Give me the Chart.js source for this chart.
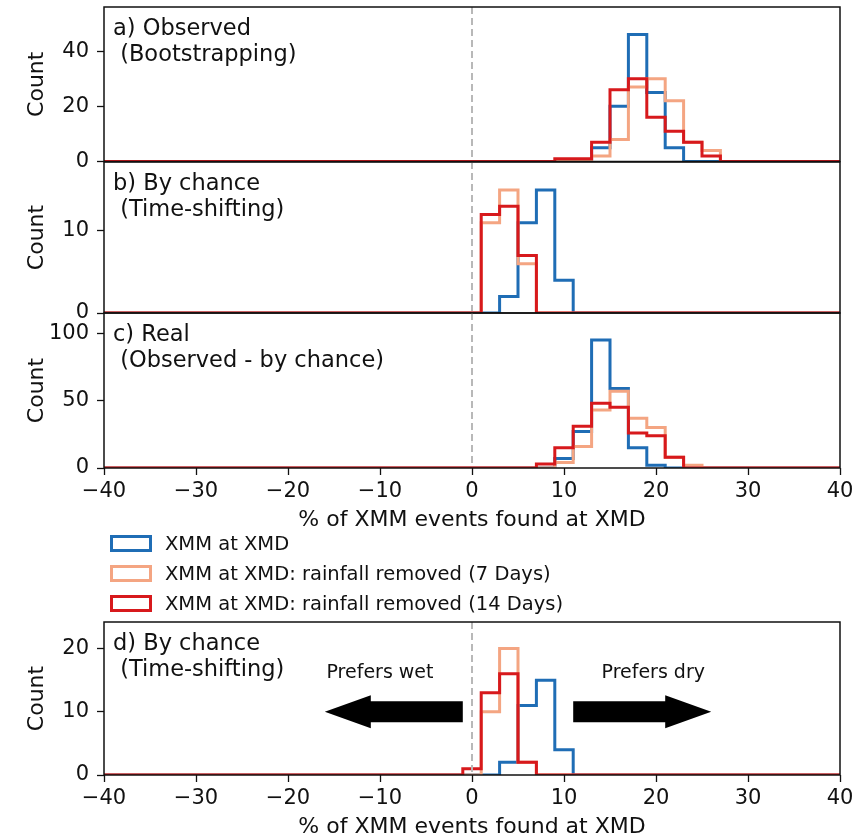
<!DOCTYPE html>
<html>
<head>
<meta charset="utf-8">
<script src="https://cdn.jsdelivr.net/npm/chart.js@4.4.1/dist/chart.umd.min.js"></script>
<style>
  html, body { margin: 0; padding: 0; background: #fff; overflow: hidden; }
  #page { position: relative; width: 862px; height: 840px; font-family: "DejaVu Sans", sans-serif; color: #111; }
  #page canvas { position: absolute; left: 0; }
  .legend-row { position: absolute; left: 110px; height: 17px; display: flex; align-items: center; font-size: 19.5px; white-space: nowrap; }
  .legend-box { box-sizing: border-box; width: 42px; height: 17px; border: 3px solid; background: #fff; margin-right: 13px; }
</style>
</head>
<body>
<div id="page">
  <canvas id="panelA" width="862" height="178" style="top:0px"></canvas>
  <canvas id="panelB" width="862" height="180" style="top:148px"></canvas>
  <canvas id="panelC" width="862" height="238" style="top:300px"></canvas>
  <canvas id="panelD" width="862" height="237" style="top:608px"></canvas>
  <div id="legend"></div>
</div>
<script>
/* global Chart */

// x axis: % of XMM events found at XMD, histogram bins 2 wide on odd edges
const xMin = -40;
const xMax = 40;
const binWidth = 2;
const xTicks = [-40, -30, -20, -10, 0, 10, 20, 30, 40];
const zeroLineX = 0;

const seriesNames = [
  "XMM at XMD",
  "XMM at XMD: rainfall removed (7 Days)",
  "XMM at XMD: rainfall removed (14 Days)",
];
const seriesColors = ["#1f6db5", "#f4a582", "#d7191c"];

// a) Observed (Bootstrapping) - left bin edges and counts
const binsA = [9, 11, 13, 15, 17, 19, 21, 23, 25];
const blueA = [0, 0, 5, 20, 46, 25, 5, 0, 0];
const orangeA = [0, 0, 2, 8, 27, 30, 22, 7, 4];
const redA = [1, 1, 7, 26, 30, 16, 11, 7, 2];
const yTicksA = [0, 20, 40];
const yMaxA = 56;

// b) By chance (Time-shifting)
const binsB = [1, 3, 5, 7, 9];
const blueB = [0, 2, 11, 15, 4];
const orangeB = [11, 15, 6, 0, 0];
const redB = [12, 13, 7, 0, 0];
const yTicksB = [0, 10];
const yMaxB = 18.4;

// c) Real (Observed - by chance)
const binsC = [7, 9, 11, 13, 15, 17, 19, 21, 23];
const blueC = [0, 7, 27, 95, 59, 15, 2, 0, 0];
const orangeC = [0, 4, 16, 43, 57, 37, 30, 8, 2];
const redC = [3, 15, 31, 48, 45, 26, 24, 8, 0];
const yTicksC = [0, 50, 100];
const yMaxC = 115;

// d) By chance (Time-shifting)
const binsD = [-1, 1, 3, 5, 7, 9];
const blueD = [0, 0, 2, 11, 15, 4];
const orangeD = [0, 10, 20, 2, 0, 0];
const redD = [1, 13, 16, 2, 0, 0];
const yTicksD = [0, 10, 20];
const yMaxD = 24.2;

// arrows in panel d, data units
const arrowFrom = [-1, 11];
const arrowTo = [-16, 26];
const arrowY = 10;
const arrowLabels = ["Prefers wet", "Prefers dry"];
const arrowLabelX = [-10, 19.7];
const arrowLabelY = 16.1;

const FONT = "DejaVu Sans";
const INK = "#111";

const minusLabel = (v) => (v < 0 ? `\u2212${Math.abs(v)}` : `${v}`);

function stepPoints(bins, counts) {
  const pts = [{ x: xMin - 1, y: 0 }];
  bins.forEach((b, i) => pts.push({ x: b, y: counts[i] }));
  pts.push({ x: bins[bins.length - 1] + binWidth, y: 0 });
  pts.push({ x: xMax + 1, y: 0 });
  return pts;
}

// dashed grey line at x = 0, dashes as small whole-pixel rects
const zeroLinePlugin = {
  id: "zeroLine",
  afterDatasetsDraw(chart) {
    const { ctx, chartArea: a, scales } = chart;
    const x = Math.round(scales.x.getPixelForValue(zeroLineX));
    const top = Math.round(a.top);
    const bottom = Math.round(a.bottom) - 2;
    ctx.save();
    ctx.globalAlpha = 1;
    ctx.fillStyle = "#b8b8b8";
    for (let y = top; y < bottom; y += 11) {
      ctx.fillRect(x - 1, y, 2, Math.min(7, bottom - y));
    }
    ctx.restore();
  },
};

const framePlugin = {
  id: "frame",
  afterDraw(chart) {
    const { ctx, chartArea: a } = chart;
    ctx.save();
    ctx.strokeStyle = "#111";
    ctx.lineWidth = 1.5;
    ctx.strokeRect(a.left, a.top, a.right - a.left, a.bottom - a.top);
    ctx.restore();
  },
};

const panelTextPlugin = {
  id: "panelText",
  afterDatasetsDraw(chart, args, opts) {
    const { ctx, chartArea: a } = chart;
    ctx.save();
    ctx.fillStyle = INK;
    ctx.font = `22.5px "${FONT}"`;
    ctx.textBaseline = "middle";
    ctx.textAlign = "left";
    opts.lines.forEach((t, i) => ctx.fillText(t, a.left + 9, a.top + 22 + i * 26));
    ctx.restore();
  },
};

const arrowPlugin = {
  id: "arrows",
  afterDatasetsDraw(chart) {
    const { ctx, scales } = chart;
    const sx = scales.x;
    const sy = scales.y;
    ctx.save();
    ctx.fillStyle = "#000";
    arrowFrom.forEach((from, i) => {
      const x0 = sx.getPixelForValue(from);
      const x1 = sx.getPixelForValue(arrowTo[i]);
      const yc = sy.getPixelForValue(arrowY);
      const dir = Math.sign(x1 - x0);
      const hl = 46;
      const sw = 10.5;
      const hw = 16.5;
      ctx.beginPath();
      ctx.moveTo(x0, yc - sw);
      ctx.lineTo(x1 - dir * hl, yc - sw);
      ctx.lineTo(x1 - dir * hl, yc - hw);
      ctx.lineTo(x1, yc);
      ctx.lineTo(x1 - dir * hl, yc + hw);
      ctx.lineTo(x1 - dir * hl, yc + sw);
      ctx.lineTo(x0, yc + sw);
      ctx.closePath();
      ctx.fill();
    });
    ctx.fillStyle = INK;
    ctx.font = `19px "${FONT}"`;
    ctx.textAlign = "center";
    ctx.textBaseline = "middle";
    arrowLabels.forEach((t, i) => {
      ctx.fillText(t, sx.getPixelForValue(arrowLabelX[i]), sy.getPixelForValue(arrowLabelY));
    });
    ctx.restore();
  },
};

function makePanel(id, cfg) {
  const series = [cfg.blue, cfg.orange, cfg.red];
  const datasets = series.map((counts, i) => ({
    label: seriesNames[i],
    data: stepPoints(cfg.bins, counts),
    stepped: true,
    borderColor: seriesColors[i],
    borderWidth: 3,
    pointRadius: 0,
    fill: false,
    clip: 0,
    order: 3 - i,
  }));

  const plugins = [zeroLinePlugin, framePlugin, panelTextPlugin];
  if (cfg.arrows) plugins.push(arrowPlugin);

  // eslint-disable-next-line no-new
  new Chart(document.getElementById(id), {
    type: "line",
    data: { datasets },
    plugins,
    options: {
      responsive: false,
      animation: false,
      events: [],
      layout: { autoPadding: false, padding: cfg.padding },
      plugins: {
        legend: { display: false },
        tooltip: { enabled: false },
        panelText: { lines: cfg.text },
      },
      scales: {
        x: {
          type: "linear",
          min: xMin,
          max: xMax,
          display: cfg.showX,
          afterBuildTicks: (axis) => {
            axis.ticks = xTicks.map((v) => ({ value: v }));
          },
          afterFit: (s) => {
            s.height = cfg.showX ? 70 : 0;
            s.paddingLeft = 0;
            s.paddingRight = 0;
          },
          border: { display: false },
          grid: { drawOnChartArea: false, tickLength: 7, color: "#111", tickWidth: 1.3 },
          ticks: {
            color: INK,
            padding: 4,
            maxRotation: 0,
            font: { family: FONT, size: 21 },
            callback: minusLabel,
          },
          title: {
            display: true,
            text: "% of XMM events found at XMD",
            color: INK,
            font: { family: FONT, size: 22 },
            padding: { top: 0, bottom: 5 },
          },
        },
        y: {
          min: 0,
          max: cfg.yMax,
          afterBuildTicks: (axis) => {
            axis.ticks = cfg.yTicks.map((v) => ({ value: v }));
          },
          afterFit: (s) => {
            s.width = 104;
            s.paddingTop = 0;
            s.paddingBottom = 0;
          },
          border: { display: false },
          grid: { drawOnChartArea: false, tickLength: 7, color: "#111", tickWidth: 1.3 },
          ticks: {
            color: INK,
            padding: 8,
            font: { family: FONT, size: 21 },
          },
          title: {
            display: true,
            text: "Count",
            color: INK,
            font: { family: FONT, size: 22 },
            padding: { top: 24, bottom: 0 },
          },
        },
      },
    },
  });
}

makePanel("panelA", {
  bins: binsA, blue: blueA, orange: orangeA, red: redA,
  yTicks: yTicksA, yMax: yMaxA, showX: false,
  text: ["a) Observed", " (Bootstrapping)"],
  padding: { top: 7, bottom: 16.5, left: 0, right: 22 },
});
makePanel("panelB", {
  bins: binsB, blue: blueB, orange: orangeB, red: redB,
  yTicks: yTicksB, yMax: yMaxB, showX: false,
  text: ["b) By chance", " (Time-shifting)"],
  padding: { top: 14, bottom: 15, left: 0, right: 22 },
});
makePanel("panelC", {
  bins: binsC, blue: blueC, orange: orangeC, red: redC,
  yTicks: yTicksC, yMax: yMaxC, showX: true,
  text: ["c) Real", " (Observed - by chance)"],
  padding: { top: 13, bottom: 0, left: 0, right: 22 },
});
makePanel("panelD", {
  bins: binsD, blue: blueD, orange: orangeD, red: redD,
  yTicks: yTicksD, yMax: yMaxD, showX: true, arrows: true,
  text: ["d) By chance", " (Time-shifting)"],
  padding: { top: 14, bottom: 0, left: 0, right: 22 },
});

// legend between panel c and panel d
const legend = document.getElementById("legend");
const legendTops = [535, 565, 595];
seriesNames.forEach((name, i) => {
  const row = document.createElement("div");
  row.className = "legend-row";
  row.style.top = `${legendTops[i]}px`;
  const box = document.createElement("span");
  box.className = "legend-box";
  box.style.borderColor = seriesColors[i];
  row.appendChild(box);
  row.appendChild(document.createTextNode(name));
  legend.appendChild(row);
});
</script>
</body>
</html>
